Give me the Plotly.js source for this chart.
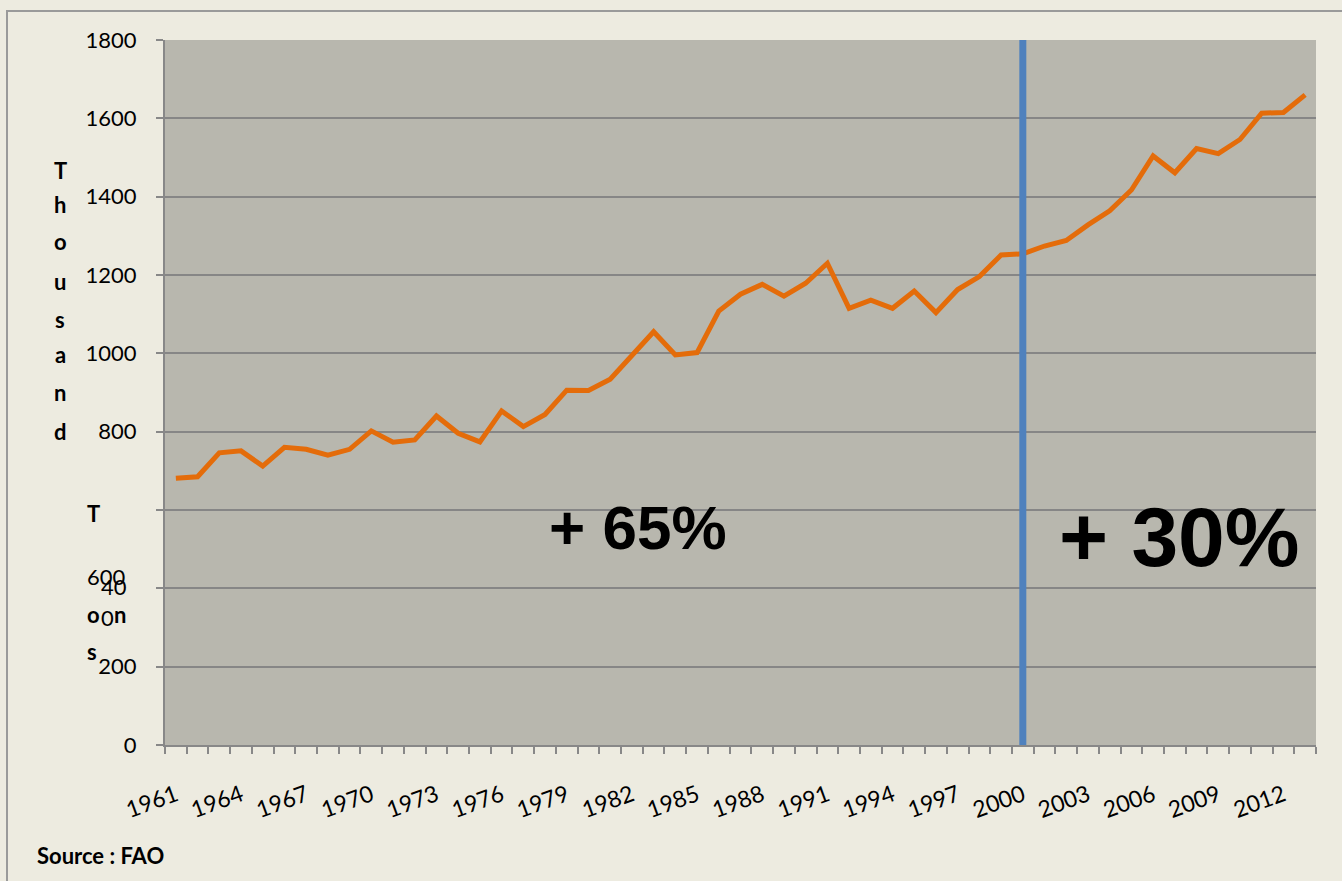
<!DOCTYPE html>
<html>
<head>
<meta charset="utf-8">
<script src="https://cdn.plot.ly/plotly-3.0.1.min.js"></script>
<style>html,body{margin:0;padding:0;background:#EDEBE0;}#chart{width:1342px;height:881px;}</style>
</head>
<body>
<div id="chart"></div>
<script>
const years = [1961,1962,1963,1964,1965,1966,1967,1968,1969,1970,1971,1972,1973,1974,1975,1976,1977,1978,1979,1980,1981,1982,1983,1984,1985,1986,1987,1988,1989,1990,1991,1992,1993,1994,1995,1996,1997,1998,1999,2000,2001,2002,2003,2004,2005,2006,2007,2008,2009,2010,2011,2012,2013];
const production = [681,685,746,751,712,760,755,740,755,802,773,779,840,796,774,853,813,844,906,905,934,993,1055,996,1002,1108,1151,1176,1146,1179,1230,1115,1136,1115,1159,1104,1163,1196,1251,1254,1274,1288,1328,1364,1417,1504,1461,1523,1510,1546,1613,1615,1660];
const xTickYears = [1961,1964,1967,1970,1973,1976,1979,1982,1985,1988,1991,1994,1997,2000,2003,2006,2009,2012];
const yTickVals = [0,200,400,600,800,1000,1200,1400,1600,1800];
const yTickText = ["0","200","","","800","1000","1200","1400","1600","1800"];
const markerYear = 2000;
const titleLetters = ["T","h","o","u","s","a","n","d"];
const growthLabels = ["+ 65%","+ 30%"];
const sourceText = "Source : FAO";

// pixel helpers (plot area 165..1316 x, 40..745 y)
const L=165,R=1316,T=40,B=745;
const px = x => (x-L)/(R-L);
const py = y => (B-y)/(B-T);

const ann = [];
const letterY = [170,204,242,281,319,354,393,431];
titleLetters.forEach((c,i)=>ann.push({xref:'paper',yref:'paper',x:px(60),y:py(letterY[i]),text:'<b>'+c+'</b>',showarrow:false,xanchor:'center',yanchor:'middle',font:{family:'Lato',size:22,color:'#000'}}));
const extra = [
  ['<b>T</b>',93,513],['<b>o</b>',93,614],['<b>n</b>',119.5,614],['<b>s</b>',92,651],
  ['600',106.5,576],['40',113.5,586],['0',107.5,617]
];
extra.forEach(e=>ann.push({xref:'paper',yref:'paper',x:px(e[1]),y:py(e[2]),text:e[0],showarrow:false,xanchor:'center',yanchor:'middle',font:{family:'Lato',size:22,color:'#000'}}));
ann.push({xref:'paper',yref:'paper',x:px(637.5),y:py(527),text:'<b>'+growthLabels[0]+'</b>',showarrow:false,xanchor:'center',yanchor:'middle',font:{family:'Liberation Sans',size:62,color:'#000'}});
ann.push({xref:'paper',yref:'paper',x:px(1179),y:py(537),text:'<b>'+growthLabels[1]+'</b>',showarrow:false,xanchor:'center',yanchor:'middle',font:{family:'Liberation Sans',size:84,color:'#000'}});
ann.push({xref:'paper',yref:'paper',x:px(35),y:py(856),text:'<b>'+sourceText+'</b>',showarrow:false,xanchor:'left',yanchor:'middle',font:{family:'Lato',size:22,color:'#000'}});

const data = [{
  x: years, y: production, type:'scatter', mode:'lines',
  line:{color:'#E46C0A',width:5}, hoverinfo:'x+y'
}];

const layout = {
  width:1342, height:881,
  margin:{l:L,r:1342-R,t:T,b:881-B},
  paper_bgcolor:'#EDEBE0', plot_bgcolor:'#B8B7AE',
  showlegend:false,
  xaxis:{
    type:'linear', range:[1960.5,2013.5], tickmode:'array', tickvals:xTickYears,
    ticktext:xTickYears.map(String), tickangle:-20, ticks:'', showgrid:false, zeroline:false,
    showline:true, linecolor:'#888', linewidth:2,
    tickfont:{family:'Lato',size:23,color:'#000'}, ticklabelstandoff:26,
    minor:{ticks:'outside', tick0:1960.5, dtick:1, ticklen:7, tickwidth:2, tickcolor:'#888', showgrid:false}
  },
  yaxis:{
    range:[0,1800], tickmode:'array', tickvals:yTickVals, ticktext:yTickText,
    ticks:'outside', ticklen:7, tickwidth:2, tickcolor:'#888',
    showgrid:true, gridcolor:'#868686', gridwidth:2, zeroline:false,
    showline:true, linecolor:'#888', linewidth:2,
    tickfont:{family:'Lato',size:22,color:'#000'}, ticklabelstandoff:15
  },
  shapes:[
    {type:'line', xref:'x', yref:'paper', x0:markerYear, x1:markerYear, y0:0, y1:1, line:{color:'#4F81BD', width:7}},
    {type:'rect', xref:'paper', yref:'paper', x0:px(7), x1:px(1400), y0:py(11), y1:py(950), line:{color:'#9A9A9A', width:2}, fillcolor:'rgba(0,0,0,0)', layer:'below'}
  ],
  annotations:ann
};
Plotly.newPlot('chart', data, layout, {displayModeBar:false, staticPlot:true});
</script>
</body>
</html>
